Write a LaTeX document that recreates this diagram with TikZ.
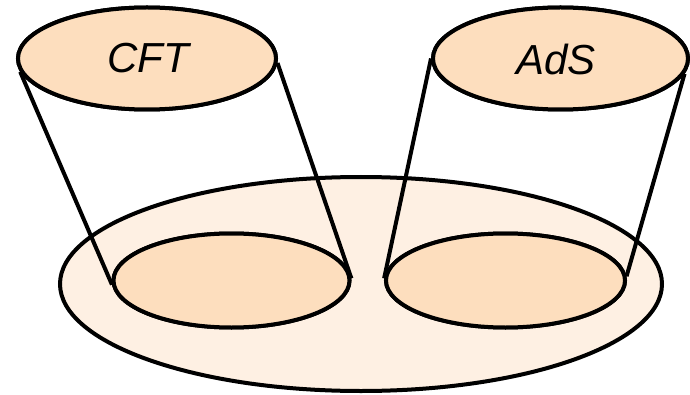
\documentclass[tikz,border=0pt]{standalone}
\usepackage{fontspec}
\setmainfont{Liberation Sans}
\usetikzlibrary{shapes.geometric}
\definecolor{peach}{RGB}{253,222,190}
\definecolor{pale}{RGB}{254,240,227}
\begin{document}
\begin{tikzpicture}[x=1pt,y=1pt,
  disc/.style={ellipse,draw=black,line width=4pt,inner sep=0pt,fill=peach},
  side/.style={draw=black,line width=4pt},
  lbl/.style={font=\fontsize{42}{50}\selectfont\itshape}]
\useasboundingbox (0,0) rectangle (690,394);
\node[disc,fill=pale,minimum width=602,minimum height=214] (base) at (361,110) {};
\node[disc,minimum width=236,minimum height=94] (lowL) at (231.5,113.5) {};
\node[disc,minimum width=239,minimum height=94] (lowR) at (505.5,113.5) {};
\node[disc,minimum width=258,minimum height=102] (cft) at (147,335.5) {};
\node[disc,minimum width=255,minimum height=102] (ads) at (560.5,335.5) {};
\draw[side] (cft.186.5) -- (lowL.182);
\draw[side] (cft.358) -- (lowL.1);
\draw[side] (ads.180.7) -- (lowR.179);
\draw[side] (ads.353) -- (lowR.2);
\node[disc,minimum width=236,minimum height=94] at (lowL) {};
\node[disc,minimum width=239,minimum height=94] at (lowR) {};
\node[disc,minimum width=258,minimum height=102] at (cft) {};
\node[disc,minimum width=255,minimum height=102] at (ads) {};
\node[lbl] (t1) at (148,336) {CFT};
\node[lbl] (t2) at (556,334) {AdS};
\end{tikzpicture}
\end{document}
